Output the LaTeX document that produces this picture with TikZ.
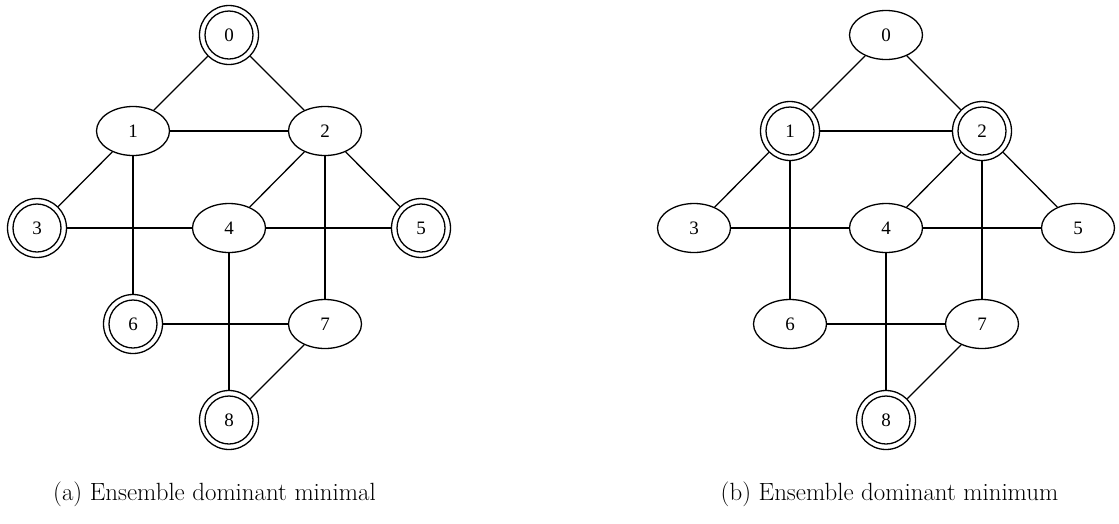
\documentclass[tikz,border=0pt]{standalone}
\usepackage{fontspec}
\newfontfamily\nodefont{Liberation Serif}
\usetikzlibrary{shapes.geometric}
\begin{document}
\begin{tikzpicture}[x=1pt,y=-1pt,
  every path/.style={line width=1.3pt},
  vtx/.style={ellipse, draw, line width=1.3pt, minimum width=73pt, minimum height=49pt,
    inner sep=0pt, font=\nodefont\fontsize{19}{19}\selectfont},
  dom/.style={circle, draw, line width=1.3pt, minimum size=59pt, inner sep=0pt,
    font=\nodefont\fontsize{19}{19}\selectfont,
    path picture={\draw[line width=1.3pt] (path picture bounding box.center) circle (24pt);}},
  captxt/.style={anchor=base, inner sep=0pt, font=\fontsize{24.9}{30}\selectfont}]
\useasboundingbox (0,0) rectangle (1119,523);

% (a) minimal dominating set {0,3,5,6,8}
\begin{scope}
  \node[dom] (a0) at (229,35) {0};
  \node[vtx] (a1) at (133,131) {1};
  \node[vtx] (a2) at (325,131) {2};
  \node[dom] (a3) at (37,228) {3};
  \node[vtx] (a4) at (229,228) {4};
  \node[dom] (a5) at (421,228) {5};
  \node[dom] (a6) at (133,324) {6};
  \node[vtx] (a7) at (325,324) {7};
  \node[dom] (a8) at (229,420) {8};
  \foreach \u/\v in {0/1,0/2,1/2,1/3,1/6,2/4,2/5,2/7,3/4,4/5,4/8,6/7,7/8}
    \draw (a\u) -- (a\v);
  \node[captxt] (capa) at (214.5,500) {(a) Ensemble dominant minimal};
\end{scope}

% (b) minimum dominating set {1,2,8}
\begin{scope}
  \node[vtx] (b0) at (886,35) {0};
  \node[dom] (b1) at (790,131) {1};
  \node[dom] (b2) at (982,131) {2};
  \node[vtx] (b3) at (694,228) {3};
  \node[vtx] (b4) at (886,228) {4};
  \node[vtx] (b5) at (1078,228) {5};
  \node[vtx] (b6) at (790,324) {6};
  \node[vtx] (b7) at (982,324) {7};
  \node[dom] (b8) at (886,420) {8};
  \foreach \u/\v in {0/1,0/2,1/2,1/3,1/6,2/4,2/5,2/7,3/4,4/5,4/8,6/7,7/8}
    \draw (b\u) -- (b\v);
  \node[captxt] (capb) at (889.5,500) {(b) Ensemble dominant minimum};
\end{scope}
\end{tikzpicture}
\end{document}
